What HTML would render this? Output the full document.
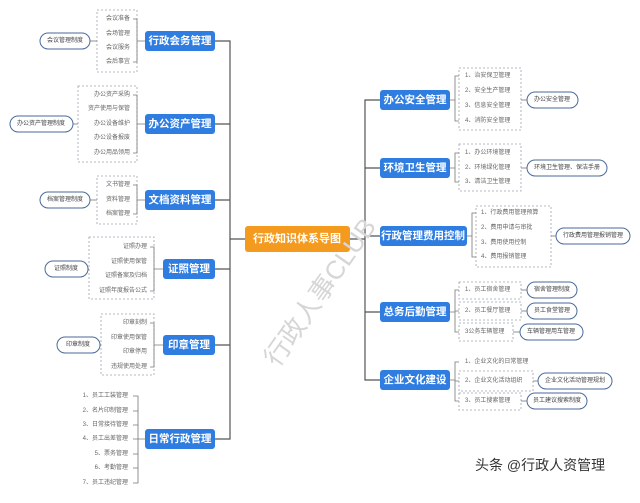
<!DOCTYPE html>
<html><head><meta charset="utf-8"><style>
body{margin:0;background:#fff}
svg text{font-family:"Liberation Sans","Noto Sans CJK SC",sans-serif}
.b{fill:#2f7de1;rx:3}
.bt{fill:#fff;font-size:10.5px;font-weight:bold;text-anchor:middle;dominant-baseline:central}
.it{fill:#666;font-size:6px;dominant-baseline:central}
.box{fill:none;stroke:#9aa3b0;stroke-dasharray:2 2;stroke-width:.8}
.ov{fill:#fff;stroke:#4a6a99;stroke-width:1}
.ot{fill:#444;font-size:6px;text-anchor:middle;dominant-baseline:central}
.ln{fill:none;stroke:#555;stroke-width:1.2}
.br{fill:none;stroke:#777;stroke-width:.8}
</style></head><body>
<svg width="640" height="498" viewBox="0 0 640 498">
<!-- trunks -->
<path class="ln" d="M215 41H230V439H215M215 124H230M215 200H230M215 269H230M215 345H230M230 239H245"/>
<path class="ln" d="M350 239H365M380 100H365V380H380M365 168H380M365 236H380M365 312H380"/>
<rect x="245" y="226" width="105" height="26" rx="3" fill="#f39a1f"/>
<text x="297" y="239" class="bt" style="font-size:11px">行政知识体系导图</text>
<!-- left blue -->
<rect class="b" x="145" y="31" width="70" height="20"/><text class="bt" x="180" y="41">行政会务管理</text>
<rect class="b" x="145" y="114" width="70" height="20"/><text class="bt" x="180" y="124">办公资产管理</text>
<rect class="b" x="145" y="190" width="70" height="20"/><text class="bt" x="180" y="200">文档资料管理</text>
<rect class="b" x="163" y="259" width="52" height="20"/><text class="bt" x="189" y="269">证照管理</text>
<rect class="b" x="163" y="335" width="52" height="20"/><text class="bt" x="189" y="345">印章管理</text>
<rect class="b" x="145" y="429" width="70" height="20"/><text class="bt" x="180" y="439">日常行政管理</text>
<!-- left groups -->
<rect class="box" x="97" y="10" width="40" height="62"/>
<path class="br" d="M133 19H137V62H133M137 41H145"/>
<g class="it" text-anchor="end"><text x="130" y="19">会议准备</text><text x="130" y="34">会场管理</text><text x="130" y="48">会议服务</text><text x="130" y="62">会后事宜</text></g>
<rect class="ov" x="40" y="33" width="50" height="16" rx="8"/><text class="ot" x="65" y="41">会议管理制度</text><path class="br" d="M90 41L97 41"/>

<rect class="box" x="78" y="86" width="59" height="76"/>
<path class="br" d="M133 95H137V153H133M137 124H145"/>
<g class="it" text-anchor="end"><text x="130" y="95">办公资产采购</text><text x="130" y="109">资产使用与保管</text><text x="130" y="124">办公设备维护</text><text x="130" y="138">办公设备报废</text><text x="130" y="153">办公用品领用</text></g>
<rect class="ov" x="10" y="116" width="63" height="16" rx="8"/><text class="ot" x="41" y="124">办公资产管理制度</text><path class="br" d="M73 124H78"/>

<rect class="box" x="97" y="176" width="40" height="48"/>
<path class="br" d="M133 185H137V214H133M137 200H145"/>
<g class="it" text-anchor="end"><text x="130" y="185">文书管理</text><text x="130" y="200">资料管理</text><text x="130" y="214">档案管理</text></g>
<rect class="ov" x="40" y="192" width="50" height="16" rx="8"/><text class="ot" x="65" y="200">档案管理制度</text><path class="br" d="M90 200H97"/>

<rect class="box" x="89" y="237" width="65" height="62"/>
<path class="br" d="M150 247H154V291H150M154 269H163"/>
<g class="it" text-anchor="end"><text x="147" y="247">证照办理</text><text x="147" y="262">证照使用保管</text><text x="147" y="276">证照备案及归档</text><text x="147" y="291">证照年度报告公式</text></g>
<rect class="ov" x="45" y="261" width="43" height="16" rx="8"/><text class="ot" x="66" y="269">证照制度</text><path class="br" d="M88 269H89"/>

<rect class="box" x="101" y="314" width="53" height="61"/>
<path class="br" d="M150 323H154V367H150M154 345H163"/>
<g class="it" text-anchor="end"><text x="147" y="323">印章刻制</text><text x="147" y="338">印章使用保管</text><text x="147" y="352">印章停用</text><text x="147" y="367">违规使用处理</text></g>
<rect class="ov" x="57" y="337" width="43" height="16" rx="8"/><text class="ot" x="78" y="345">印章制度</text>

<path class="br" d="M133 396H138V483H133M138 439H145M133 411H138M133 425H138M133 439H138M133 454H138M133 468H138"/>
<g class="it" text-anchor="end"><text x="128" y="396">1、员工工装管理</text><text x="128" y="411">2、名片印制管理</text><text x="128" y="425">3、日常接待管理</text><text x="128" y="439">4、员工出差管理</text><text x="128" y="454">5、票务管理</text><text x="128" y="468">6、考勤管理</text><text x="128" y="483">7、员工违纪管理</text></g>

<!-- right blue -->
<rect class="b" x="380" y="90" width="70" height="20"/><text class="bt" x="415" y="100">办公安全管理</text>
<rect class="b" x="380" y="158" width="70" height="20"/><text class="bt" x="415" y="168">环境卫生管理</text>
<rect class="b" x="380" y="226" width="87" height="20"/><text class="bt" x="423" y="236">行政管理费用控制</text>
<rect class="b" x="380" y="302" width="70" height="20"/><text class="bt" x="415" y="312">总务后勤管理</text>
<rect class="b" x="380" y="370" width="70" height="20"/><text class="bt" x="415" y="380">企业文化建设</text>

<rect class="box" x="459" y="68" width="62" height="62"/>
<path class="br" d="M450 100H455M459 76H455V121H459"/>
<g class="it"><text x="465" y="76">1、治安保卫管理</text><text x="465" y="91">2、安全生产管理</text><text x="465" y="106">3、信息安全管理</text><text x="465" y="121">4、消防安全管理</text></g>
<rect class="ov" x="527" y="92" width="51" height="16" rx="8"/><text class="ot" x="552" y="100">办公安全管理</text><path class="br" d="M521 100H527"/>

<rect class="box" x="459" y="144" width="62" height="47"/>
<path class="br" d="M450 168H455M459 153H455V182H459"/>
<g class="it"><text x="465" y="153">1、办公环境管理</text><text x="465" y="168">2、环境绿化管理</text><text x="465" y="182">3、清洁卫生管理</text></g>
<rect class="ov" x="527" y="160" width="80" height="16" rx="8"/><text class="ot" x="567" y="168">环境卫生管理、保洁手册</text><path class="br" d="M521 168H527"/>

<rect class="box" x="476" y="206" width="75" height="61"/>
<path class="br" d="M467 236H472M476 213H472V257H476"/>
<g class="it"><text x="481" y="213">1、行政费用管理预算</text><text x="481" y="228">2、费用申请与审批</text><text x="481" y="243">3、费用使用控制</text><text x="481" y="257">4、费用报销管理</text></g>
<rect class="ov" x="556" y="228" width="74" height="16" rx="8"/><text class="ot" x="593" y="236">行政费用管理报销管理</text><path class="br" d="M551 236H556"/>

<path class="br" d="M450 312H455M459 290H455V332H459M455 311H459"/>
<rect class="box" x="459" y="282" width="62" height="17"/><rect class="box" x="459" y="302" width="62" height="18"/><rect class="box" x="459" y="323" width="54" height="18"/>
<g class="it"><text x="465" y="290">1、员工宿舍管理</text><text x="465" y="311">2、员工餐厅管理</text><text x="465" y="332">3公务车辆管理</text></g>
<rect class="ov" x="527" y="282" width="50" height="16" rx="8"/><text class="ot" x="552" y="290">宿舍管理制度</text><path class="br" d="M521 290H527"/>
<rect class="ov" x="527" y="303" width="50" height="16" rx="8"/><text class="ot" x="552" y="311">员工食堂管理</text><path class="br" d="M521 311H527"/>
<rect class="ov" x="520" y="324" width="63" height="16" rx="8"/><text class="ot" x="551" y="332">车辆管理用车管理</text><path class="br" d="M513 332H520"/>

<path class="br" d="M450 380H455M459 362H455V401H459M455 381H459"/>
<rect class="box" x="459" y="371" width="74" height="20"/><rect class="box" x="459" y="393" width="62" height="17"/>
<g class="it"><text x="465" y="362">1、企业文化的日常管理</text><text x="465" y="381">2、企业文化活动组织</text><text x="465" y="401">3、员工搜索管理</text></g>
<rect class="ov" x="538" y="373" width="74" height="16" rx="8"/><text class="ot" x="575" y="381">企业文化活动管理规划</text><path class="br" d="M533 381H538"/>
<rect class="ov" x="527" y="393" width="60" height="16" rx="8"/><text class="ot" x="557" y="401">员工建议搜索制度</text><path class="br" d="M521 401H527"/>

<text x="320" y="292" transform="rotate(-55 320 292)" text-anchor="middle" dominant-baseline="central" font-size="26" fill="#d6d6d6">行政人事CLUB</text>
<text x="475" y="470" font-size="14" fill="#333">头条 @行政人资管理</text>
</svg>
</body></html>
